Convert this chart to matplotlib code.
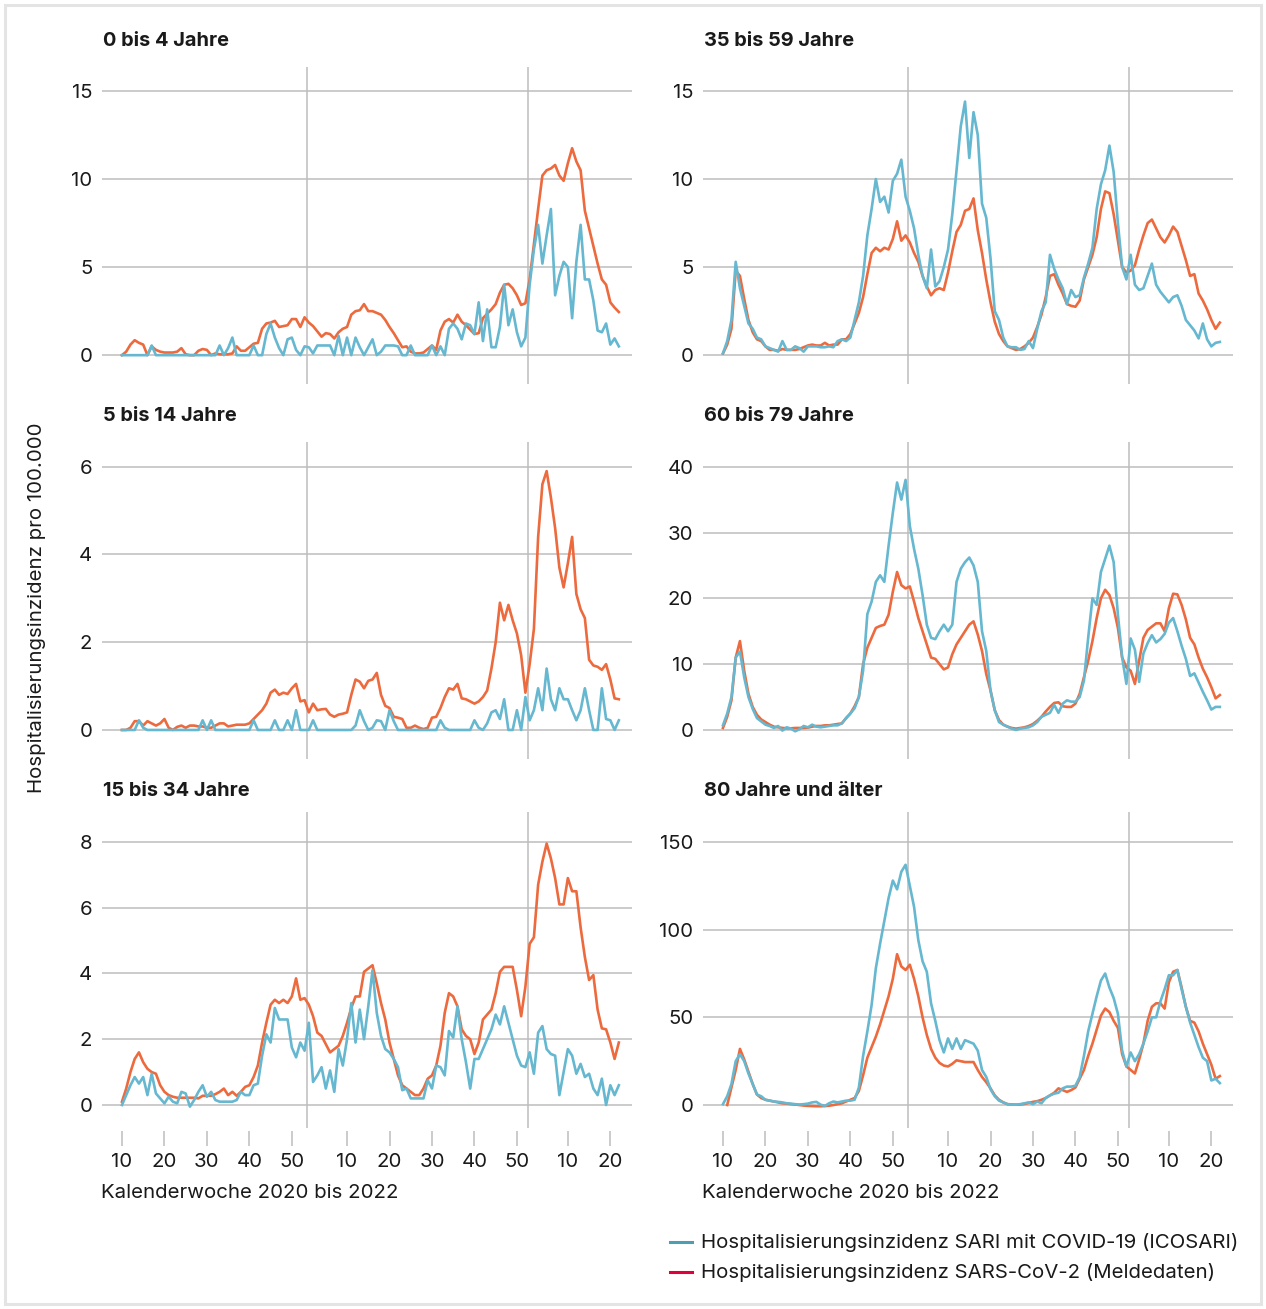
import numpy as np
import matplotlib
matplotlib.use("Agg")
import matplotlib.pyplot as plt
from matplotlib.lines import Line2D
from matplotlib.patches import Rectangle

plt.rcParams['font.family'] = ['Inter', 'DejaVu Sans']

# Kalenderwochen 2020/10 .. 2022/22
kw = list(range(10, 54)) + list(range(1, 53)) + list(range(1, 23))

titles = ["0 bis 4 Jahre", "35 bis 59 Jahre", "5 bis 14 Jahre",
          "60 bis 79 Jahre", "15 bis 34 Jahre", "80 Jahre und älter"]

# Meldedaten (orange)
melde_0_4 = [0, 0.2, 0.6, 0.85, 0.7, 0.6, 0.0, 0.5, 0.3, 0.2,
             0.15, 0.15, 0.15, 0.2, 0.4, 0.05, 0, 0, 0.25, 0.35,
             0.3, 0.0, 0.1, 0.05, 0.05, 0.05, 0.1, 0.5, 0.25, 0.25,
             0.45, 0.65, 0.7, 1.5, 1.8, 1.85, 1.95, 1.6, 1.65, 1.7,
             2.05, 2.05, 1.6, 2.15, 1.85, 1.65, 1.35, 1.05, 1.25, 1.2,
             0.95, 1.3, 1.5, 1.6, 2.3, 2.5, 2.55, 2.9, 2.5, 2.5,
             2.4, 2.3, 2.0, 1.6, 1.25, 0.85, 0.45, 0.5, 0.2, 0.1,
             0.1, 0.15, 0.35, 0.55, 0.3, 1.4, 1.9, 2.05, 1.85, 2.3,
             1.9, 1.7, 1.45, 1.2, 1.25, 2.1, 2.35, 2.6, 2.9, 3.55,
             4.0, 4.05, 3.8, 3.4, 2.85, 2.95, 4.3, 6.3, 8.3, 10.2,
             10.5, 10.6, 10.8, 10.2, 9.9, 10.9, 11.75, 11.0, 10.5, 8.2,
             7.2, 6.2, 5.2, 4.3, 4.0, 3.0, 2.7, 2.45]
melde_35_59 = [0.1, 0.6, 1.5, 4.8, 4.5, 3.2, 2.0, 1.3, 0.9, 0.8,
               0.5, 0.3, 0.3, 0.25, 0.35, 0.3, 0.3, 0.3, 0.35, 0.45,
               0.55, 0.6, 0.55, 0.55, 0.7, 0.55, 0.6, 0.6, 0.9, 0.9,
               1.2, 1.8, 2.4, 3.3, 4.6, 5.8, 6.1, 5.9, 6.1, 6.0,
               6.6, 7.6, 6.5, 6.8, 6.4, 5.8, 5.3, 4.5, 3.9, 3.4,
               3.7, 3.8, 3.7, 4.7, 5.9, 7.0, 7.4, 8.2, 8.3, 8.9,
               7.1, 5.8, 4.3, 3.0, 1.9, 1.2, 0.8, 0.5, 0.4, 0.3,
               0.35, 0.5, 0.7, 1.0, 1.6, 2.3, 3.3, 4.5, 4.6, 4.0,
               3.5, 2.9, 2.8, 2.75, 3.1, 4.3, 5.0, 5.7, 6.7, 8.3,
               9.3, 9.2, 8.0, 6.5, 5.0, 4.7, 4.8, 5.1, 6.0, 6.8,
               7.5, 7.7, 7.2, 6.7, 6.4, 6.8, 7.3, 7.0, 6.2, 5.4,
               4.5, 4.6, 3.5, 3.1, 2.6, 2.0, 1.5, 1.85]
melde_5_14 = [0, 0, 0.05, 0.2, 0.2, 0.1, 0.2, 0.15, 0.1, 0.15,
              0.25, 0.05, 0.0, 0.07, 0.1, 0.05, 0.1, 0.1, 0.08, 0.08,
              0.05, 0.05, 0.1, 0.15, 0.15, 0.08, 0.1, 0.12, 0.12, 0.12,
              0.15, 0.25, 0.35, 0.45, 0.6, 0.85, 0.92, 0.8, 0.85, 0.82,
              0.95, 1.05, 0.65, 0.68, 0.4, 0.6, 0.45, 0.47, 0.48, 0.35,
              0.3, 0.35, 0.37, 0.4, 0.8, 1.15, 1.1, 0.95, 1.12, 1.15,
              1.3, 0.8, 0.55, 0.5, 0.3, 0.28, 0.25, 0.05, 0.05, 0.1,
              0.05, 0.02, 0.05, 0.28, 0.3, 0.5, 0.75, 0.95, 0.92, 1.05,
              0.72, 0.7, 0.65, 0.6, 0.65, 0.75, 0.9, 1.4, 2.0, 2.9,
              2.5, 2.85, 2.5, 2.2, 1.7, 0.85, 1.5, 2.3, 4.4, 5.6,
              5.9, 5.3, 4.6, 3.7, 3.25, 3.8, 4.4, 3.1, 2.75, 2.55,
              1.6, 1.47, 1.44, 1.37, 1.5, 1.15, 0.72, 0.7]
melde_60_79 = [0.3, 2.0, 4.5, 11.0, 13.5, 9.0, 5.5, 3.5, 2.3, 1.6,
               1.2, 0.8, 0.5, 0.4, 0.3, 0.25, 0.25, 0.3, 0.3, 0.3,
               0.35, 0.5, 0.6, 0.6, 0.7, 0.7, 0.8, 0.9, 1.0, 1.8,
               2.5, 3.6, 5.0, 10.0, 12.5, 14.0, 15.5, 15.8, 16.0, 17.5,
               21.0, 24.0, 22.0, 21.5, 21.8, 19.5, 17.0, 15.0, 13.0, 11.0,
               10.8, 10.0, 9.2, 9.5, 11.5, 13.0, 14.0, 15.0, 16.0, 16.5,
               14.5, 12.0, 8.5, 6.0, 3.0, 1.5, 0.8, 0.5, 0.3, 0.2,
               0.3, 0.4, 0.6, 0.9, 1.4, 2.0, 2.8, 3.5, 4.1, 4.2,
               3.6, 3.5, 3.5, 4.0, 5.5, 8.0, 10.5, 13.5, 17.0, 20.0,
               21.3, 20.5, 18.5, 15.5, 11.0, 9.5, 9.0, 7.0, 10.5, 14.0,
               15.2, 15.7, 16.2, 16.2, 15.0, 18.5, 20.7, 20.6, 19.0, 16.8,
               14.0, 13.0, 11.0, 9.3, 8.0, 6.5, 4.8, 5.3]
melde_15_34 = [0.1, 0.5, 1.0, 1.4, 1.6, 1.3, 1.1, 1.0, 0.95, 0.6,
               0.4, 0.3, 0.25, 0.22, 0.22, 0.22, 0.22, 0.22, 0.2, 0.28,
               0.28, 0.28, 0.33, 0.4, 0.5, 0.3, 0.4, 0.28, 0.4, 0.55,
               0.6, 0.85, 1.2, 1.9, 2.5, 3.05, 3.2, 3.1, 3.2, 3.1,
               3.3, 3.85, 3.2, 3.25, 3.05, 2.7, 2.2, 2.1, 1.85, 1.6,
               1.7, 1.8, 2.1, 2.5, 2.95, 3.3, 3.3, 4.05, 4.15, 4.25,
               3.7, 3.1, 2.6, 1.9, 1.4, 0.9, 0.6, 0.5, 0.4, 0.3,
               0.3, 0.5, 0.8, 0.9, 1.2, 1.8, 2.8, 3.4, 3.3, 3.0,
               2.3, 2.1, 2.0, 1.55, 1.9, 2.6, 2.75, 2.9, 3.4, 4.05,
               4.2, 4.2, 4.2, 3.5, 2.7, 3.6, 4.9, 5.1, 6.7, 7.4,
               7.95, 7.5, 6.9, 6.1, 6.1, 6.9, 6.5, 6.5, 5.4, 4.5,
               3.8, 3.95, 2.9, 2.33, 2.3, 1.9, 1.4, 1.9]
melde_80 = [np.nan, 0, 10.0, 20.0, 32.0, 26.0, 19.0, 12.0, 6.0, 4.0,
            3.0, 2.5, 2.0, 1.5, 1.0, 0.8, 0.5, 0.3, 0.0, -0.3,
            -0.5, -0.6, -0.7, -0.7, -0.6, -0.4, 0.0, 0.5, 1.0, 2.0,
            3.0, 4.0, 8.0, 17, 27, 33, 39, 46, 54, 62,
            72, 86, 79, 77, 80, 72, 62, 50, 40, 32,
            27, 24, 22.5, 22, 23.5, 25.5, 25, 24.5, 24.5, 24.5,
            20, 16, 13, 9.5, 5.5, 3.0, 1.5, 0.5, 0.3, 0.2,
            0.3, 0.6, 1.2, 1.8, 2.2, 3.0, 4.0, 5.5, 7.0, 9.5,
            8.5, 7.5, 8.5, 10, 15, 20, 28, 35, 43, 51,
            55, 53, 48, 44, 29, 22, 20, 18, 26, 35,
            48, 56, 58, 58, 55, 70, 76, 77, 67, 56,
            48, 47, 42, 35, 29, 23, 15, 16.5]

# ICOSARI (blau)
icosari_0_4 = [0, 0, 0, 0, 0, 0, 0, 0.55, 0, 0,
               0, 0, 0, 0, 0, 0, 0, 0, 0, 0,
               0, 0, 0, 0.55, 0, 0.4, 1.0, 0, 0, 0,
               0, 0.55, 0, 0, 1.2, 1.8, 1.0, 0.4, 0, 0.9,
               1.0, 0.3, 0, 0.5, 0.45, 0.1, 0.55, 0.55, 0.55, 0.55,
               0, 1.1, 0, 1.0, 0, 1.0, 0.45, 0, 0.45, 0.9,
               0, 0.2, 0.55, 0.55, 0.55, 0.5, 0, 0, 0.55, 0,
               0, 0, 0, 0.55, 0, 0.5, 0, 1.5, 1.8, 1.5,
               0.9, 1.8, 1.7, 1.2, 3.0, 0.8, 2.6, 0.45, 0.45, 1.6,
               4.0, 1.7, 2.6, 1.3, 0.5, 1.0, 4.0, 6.0, 7.4, 5.2,
               6.8, 8.3, 3.4, 4.5, 5.3, 5.0, 2.1, 5.3, 7.4, 4.3,
               4.3, 3.1, 1.4, 1.3, 1.8, 0.6, 0.95, 0.5]
icosari_35_59 = [0.1, 0.8, 2.0, 5.3, 3.8, 2.8, 1.8, 1.5, 1.0, 0.9,
                 0.5, 0.4, 0.3, 0.2, 0.8, 0.3, 0.3, 0.5, 0.4, 0.2,
                 0.5, 0.5, 0.5, 0.45, 0.45, 0.5, 0.45, 0.8, 0.9, 0.8,
                 1.0, 2.0, 3.0, 4.5, 6.8, 8.3, 10.0, 8.7, 9.0, 8.1,
                 9.9, 10.3, 11.1, 9.0, 8.2, 7.2, 5.7, 4.5, 3.8, 6.0,
                 3.9, 4.2, 5.0, 6.0, 8.0, 10.5, 13.0, 14.4, 11.2, 13.8,
                 12.5, 8.6, 7.8, 5.5, 2.5, 2.0, 1.0, 0.5, 0.45, 0.45,
                 0.3, 0.35, 0.8, 0.4, 1.5, 2.5, 3.0, 5.7, 4.9, 4.3,
                 3.8, 2.9, 3.7, 3.3, 3.4, 4.4, 5.2, 6.1, 8.3, 9.7,
                 10.5, 11.9, 10.4, 7.5, 5.0, 4.3, 5.7, 4.0, 3.7, 3.8,
                 4.5, 5.2, 4.0, 3.6, 3.3, 3.0, 3.3, 3.4, 2.8, 2.0,
                 1.7, 1.4, 0.95, 1.8, 0.9, 0.5, 0.7, 0.75]
icosari_5_14 = [0, 0, 0, 0, 0.22, 0.05, 0, 0, 0, 0,
                0, 0, 0, 0, 0, 0, 0, 0, 0, 0.22,
                0, 0.22, 0, 0, 0, 0, 0, 0, 0, 0,
                0, 0.22, 0, 0, 0, 0, 0.22, 0, 0, 0.22,
                0, 0.45, 0, 0, 0, 0.22, 0, 0, 0, 0,
                0, 0, 0, 0, 0, 0.1, 0.45, 0.2, 0, 0.05,
                0.22, 0.2, 0, 0.45, 0.2, 0, 0, 0, 0, 0,
                0, 0, 0, 0, 0, 0.22, 0.05, 0, 0, 0,
                0, 0, 0, 0.22, 0.05, 0, 0.15, 0.4, 0.45, 0.25,
                0.7, 0, 0, 0.45, 0, 0.75, 0.22, 0.45, 0.95, 0.45,
                1.4, 0.7, 0.45, 0.95, 0.7, 0.7, 0.45, 0.22, 0.45, 0.95,
                0.45, 0, 0, 0.95, 0.25, 0.22, 0, 0.22]
icosari_60_79 = [0.7, 2.5, 5.0, 11.0, 11.9, 8.0, 5.0, 3.2, 1.8, 1.3,
                 0.8, 0.6, 0.3, 0.6, -0.1, 0.4, 0.2, -0.2, 0.1, 0.6,
                 0.4, 0.8, 0.5, 0.4, 0.5, 0.6, 0.7, 0.7, 1.0, 1.8,
                 2.5, 3.3, 5.0, 9.0, 17.6, 19.5, 22.5, 23.5, 22.5, 28.0,
                 33.0, 37.6, 35.0, 38.0, 31.0, 27.5, 24.5, 20.5, 16.0, 14.0,
                 13.8, 15.0, 16.0, 15.0, 16.0, 22.5, 24.5, 25.5, 26.2, 25.0,
                 22.5, 15.0, 12.0, 6.0, 3.0, 1.2, 0.8, 0.5, 0.2, 0.0,
                 0.2, 0.3, 0.4, 0.7, 1.2, 2.0, 2.3, 2.6, 3.8, 2.6,
                 4.0, 4.5, 4.3, 4.3, 5.0, 7.5, 14.0, 20.0, 19.0, 24.0,
                 26.0, 28.0, 25.5, 17.5, 11.0, 7.0, 13.9, 12.2, 7.3, 11.6,
                 13.2, 14.4, 13.3, 13.8, 14.6, 16.3, 17.0, 15.0, 12.8, 10.8,
                 8.2, 8.6, 7.2, 5.8, 4.5, 3.1, 3.5, 3.5]
icosari_15_34 = [0, 0.3, 0.6, 0.85, 0.65, 0.85, 0.3, 0.95, 0.35, 0.2,
                 0.05, 0.25, 0.1, 0.05, 0.4, 0.35, -0.05, 0.15, 0.4, 0.6,
                 0.25, 0.4, 0.15, 0.1, 0.1, 0.1, 0.1, 0.15, 0.4, 0.3,
                 0.3, 0.6, 0.65, 1.5, 2.15, 1.9, 2.95, 2.6, 2.6, 2.6,
                 1.75, 1.45, 1.9, 1.65, 2.5, 0.7, 0.9, 1.15, 0.5, 1.05,
                 0.4, 1.7, 1.2, 2.0, 3.1, 1.9, 2.9, 2.0, 3.0, 4.1,
                 2.8, 2.1, 1.7, 1.6, 1.4, 1.15, 0.45, 0.5, 0.2, 0.2,
                 0.2, 0.2, 0.75, 0.5, 1.2, 1.15, 0.9, 2.25, 2.05, 3.0,
                 2.0, 1.3, 0.5, 1.4, 1.4, 1.7, 2.0, 2.3, 2.75, 2.45,
                 3.0, 2.5, 2.0, 1.5, 1.2, 1.15, 1.6, 0.95, 2.2, 2.4,
                 1.7, 1.55, 1.5, 0.3, 1.0, 1.7, 1.5, 0.95, 1.25, 0.85,
                 0.95, 0.5, 0.3, 0.8, 0.0, 0.6, 0.3, 0.6]
icosari_80 = [0.5, 5.0, 12.0, 25.0, 29.0, 25.0, 18.0, 12.0, 6.0, 5.0,
              3.0, 2.5, 2.0, 1.8, 1.5, 1.0, 0.8, 0.5, 0.3, 0.5,
              0.8, 1.5, 1.8, 0.2, -0.5, 1.0, 2.0, 1.5, 2.0, 2.5,
              2.5, 3.0, 10, 28, 42, 57, 78, 92, 105, 118,
              128, 123, 133, 137, 125, 113, 94, 82, 76, 58,
              48, 37, 30, 38, 32, 38, 32, 37, 36, 35,
              31, 20, 16, 9, 5, 2.5, 1.5, 0.5, 0.2, 0.2,
              0.5, 1.0, 1.5, 0.5, 2.0, 1.0, 4.0, 5.5, 6.5, 7.0,
              9.5, 10.5, 10.5, 11, 16, 28, 42, 52, 62, 71,
              75, 67, 61, 52, 31, 22, 30, 25, 29, 35,
              42, 50, 50, 59, 66, 74, 74, 77, 66, 56,
              47, 40, 33, 27, 25, 14, 15, 12.5]

melde = [melde_0_4, melde_35_59, melde_5_14, melde_60_79, melde_15_34, melde_80]
icosari = [icosari_0_4, icosari_35_59, icosari_5_14, icosari_60_79, icosari_15_34, icosari_80]
yticks = [[0, 5, 10, 15], [0, 5, 10, 15], [0, 2, 4, 6], [0, 10, 20, 30, 40],
          [0, 2, 4, 6, 8], [0, 50, 100, 150]]
ylims = [(-1.62, 16.38), (-1.62, 16.38), (-0.655, 6.57), (-4.37, 43.8),
         (-0.70, 8.91), (-13.1, 167.1)]

ORANGE = "#ec6a3d"
BLUE = "#66b7d0"
GRID = "#bdbdbd"
TXT = "#1a1a1a"
FS = 14.7
FS_TITLE = 14.4

W, H = 1266, 1309
fig = plt.figure(figsize=(W / 100, H / 100), dpi=100)

x = np.arange(len(kw))
tick_pos = [i for i, w in enumerate(kw) if w % 10 == 0]
tick_lab = [str(kw[i]) for i in tick_pos]
year_breaks = [i - 0.5 for i, w in enumerate(kw) if w == 1 and i > 0]

col_left = [102, 703]
row_top = [66.7, 441.7, 812]
row_bot = [383.7, 758.7, 1128]
ax_w = 530

for k in range(6):
    r, c = divmod(k, 2)
    ax = fig.add_axes([col_left[c] / W, 1 - row_bot[r] / H, ax_w / W,
                       (row_bot[r] - row_top[r]) / H])
    for s in ax.spines.values():
        s.set_visible(False)
    ax.set_xlim(-4.7, 120.1)
    ax.set_ylim(*ylims[k])
    ax.set_yticks(yticks[k])
    ax.set_yticklabels([str(v) for v in yticks[k]])
    ax.yaxis.grid(True, color=GRID, lw=1.1)
    ax.set_axisbelow(True)
    ax.tick_params(axis='y', length=0, pad=7, labelsize=FS, labelcolor=TXT)
    for xb in year_breaks:
        ax.axvline(xb, color=GRID, lw=1.1, zorder=0.5)
    ax.plot(x, icosari[k], color=BLUE, lw=1.9, zorder=3)
    ax.plot(x, melde[k], color=ORANGE, lw=1.9, zorder=2)
    if r == 2:
        ax.spines['bottom'].set_position(('outward', 2.2))
        ax.set_xticks(tick_pos)
        ax.set_xticklabels(tick_lab)
        ax.tick_params(axis='x', length=10.8, width=1.1, color=GRID, pad=5,
                       labelsize=FS, labelcolor=TXT)
        fig.text((col_left[c] - 1) / W, 1 - 1193 / H, "Kalenderwoche 2020 bis 2022",
                 ha='left', va='center', fontsize=FS, color=TXT)
    else:
        ax.set_xticks([])
    fig.text((col_left[c] + 1) / W, 1 - (41 + 375 * r) / H, titles[k],
             ha='left', va='center', fontsize=FS_TITLE, fontweight='bold', color=TXT)

fig.text(37 / W, 1 - 608 / H, "Hospitalisierungsinzidenz pro 100.000",
         rotation=90, ha='center', va='center', fontsize=FS, color=TXT)

# Legende
leg_items = [("Hospitalisierungsinzidenz SARI mit COVID-19 (ICOSARI)", "#4e9db2", 1242),
             ("Hospitalisierungsinzidenz SARS-CoV-2 (Meldedaten)", "#e0003c", 1272)]
for label, col, yy in leg_items:
    fig.add_artist(Line2D([670 / W, 692 / W], [1 - yy / H, 1 - yy / H],
                          transform=fig.transFigure, color=col, lw=2.2))
    fig.text(701 / W, 1 - yy / H, label, ha='left', va='center',
             fontsize=FS, color=TXT)

fig.add_artist(Rectangle((5 / W, 5 / H), (W - 10) / W, (H - 10) / H,
                         transform=fig.transFigure, fill=False,
                         edgecolor="#e4e4e4", lw=2.2))

fig.savefig("out.png", dpi=100)
